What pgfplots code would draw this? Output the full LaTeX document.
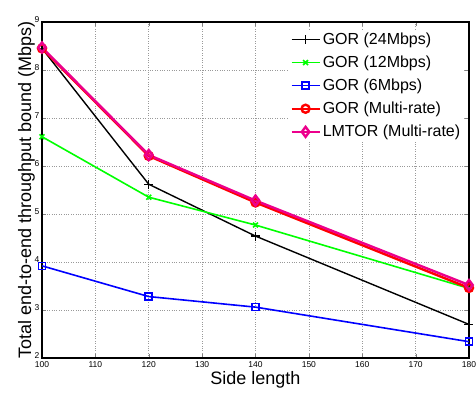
\documentclass[border=0pt]{standalone}
\usepackage{pgfplots}
\pgfplotsset{compat=1.18}
\usepackage{fontspec}
\setmainfont{Liberation Sans}
\begin{document}
\begin{tikzpicture}[x=1pt,y=1pt]
\useasboundingbox (-42pt,-36pt) rectangle (434pt,358pt);
\begin{axis}[
  name=ax, at={(0,0)}, anchor=south west,
  scale only axis, width=427pt, height=336pt,
  xmin=100, xmax=180, ymin=2, ymax=9,
  xtick={100,110,...,180}, ytick={2,3,...,9},
  tick align=inside, tick pos=both,
  major tick length=4pt,
  axis line style={line width=1.3pt},
  grid=major, grid style={dotted, gray!80, line width=0.5pt},
  /pgf/number format/assume math mode=true,
  /pgf/number format/1000 sep={},
  ticklabel style={font=\fontsize{8.5}{9}\selectfont},
  xlabel={Side length}, ylabel={Total end-to-end throughput bound (Mbps)},
  label style={font=\fontsize{18}{20}\selectfont},
  xlabel style={yshift=3pt},
  ylabel style={yshift=-7pt},
  xticklabel style={yshift=0pt},
  yticklabel style={xshift=1pt, yshift=2pt},
  legend style={at={(0.987,0.977)}, anchor=north east, draw=none, fill=white,
    font=\fontsize{16}{18}\selectfont, row sep=6pt, inner sep=1pt},
  legend cell align=left,
  legend image code/.code={\draw[#1] (0pt,0pt) -- (28pt,0pt); \draw[#1] plot coordinates {(14pt,0pt)};},
]
\addplot[black, line width=1.4pt, mark=+, mark size=4.5pt] coordinates {(100,8.45) (120,5.62) (140,4.54) (180,2.70)};
\addplot[green, line width=1.6pt, mark=x, mark size=3.5pt] coordinates {(100,6.61) (120,5.35) (140,4.77) (180,3.45)};
\addplot[blue, line width=1.6pt, mark=square, mark size=3.5pt] coordinates {(100,3.92) (120,3.28) (140,3.06) (180,2.34)};
\addplot[red, line width=2.4pt, mark=o, mark size=4pt] coordinates {(100,8.45) (120,6.21) (140,5.24) (180,3.46)};
\addplot[magenta, line width=2.4pt, mark=diamond, mark size=5pt] coordinates {(100,8.47) (120,6.23) (140,5.28) (180,3.52)};
\legend{GOR (24Mbps), GOR (12Mbps), GOR (6Mbps), GOR (Multi-rate), LMTOR (Multi-rate)}
\end{axis}
\end{tikzpicture}
\end{document}
